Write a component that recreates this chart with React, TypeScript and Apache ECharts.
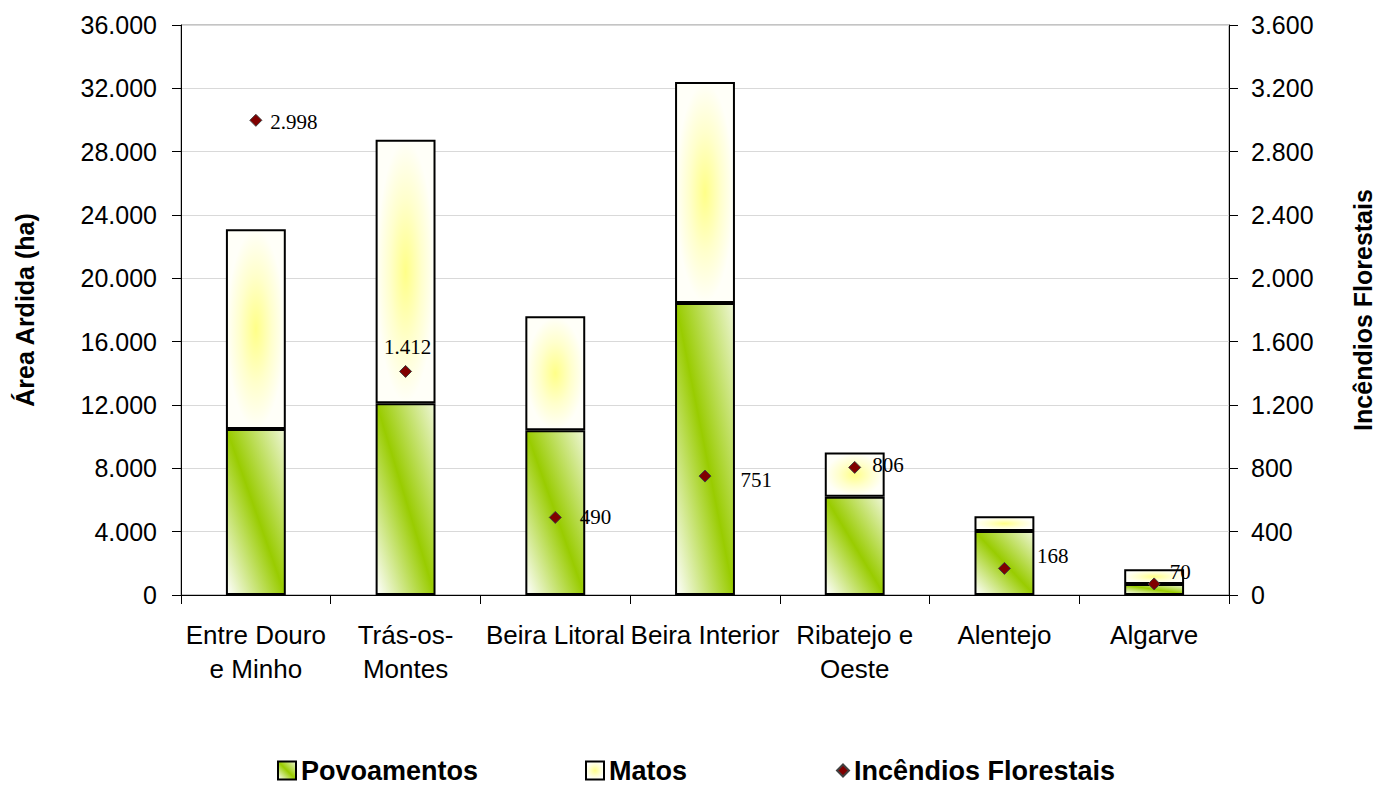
import React, { useEffect, useRef } from "react";
import * as echarts from "echarts";

const categories = [
  "Entre Douro\ne Minho",
  "Trás-os-\nMontes",
  "Beira Litoral",
  "Beira Interior",
  "Ribatejo e\nOeste",
  "Alentejo",
  "Algarve",
];
const povoamentos = [10480, 12110, 10400, 18450, 6200, 4050, 700];
const matos = [12620, 16640, 7200, 13950, 2800, 920, 920];
const incendios = [2998, 1412, 490, 751, 806, 168, 70];

// label placement of the point labels (style only)
const labelPlacement: { position: string; offset: [number, number] }[] = [
  { position: "right", offset: [3, 2] },
  { position: "top", offset: [2, -2] },
  { position: "right", offset: [13, 0] },
  { position: "right", offset: [24, 4] },
  { position: "right", offset: [6, -2] },
  { position: "right", offset: [21, -12] },
  { position: "right", offset: [4, -12] },
];

const SANS = "'Liberation Sans', Arial, sans-serif";
const SERIF = "'Liberation Serif', 'Times New Roman', serif";

function fmt(v: number): string {
  return String(Math.round(v)).replace(/\B(?=(\d{3})+(?!\d))/g, ".");
}

export default function App() {
  const ref = useRef<HTMLDivElement>(null);

  useEffect(() => {
    document.body.style.margin = "0";
    if (!ref.current) return;
    const chart = echarts.init(ref.current, null, { renderer: "svg" });

    const greenFill = new echarts.graphic.LinearGradient(0, 1, 1, 0, [
      { offset: 0, color: "#ffffff" },
      { offset: 0.5, color: "#99cc00" },
      { offset: 1, color: "#eef6d6" },
    ]);
    const yellowFill = new echarts.graphic.RadialGradient(0.5, 0.5, 0.5, [
      { offset: 0, color: "#ffff88" },
      { offset: 0.55, color: "#ffffcc" },
      { offset: 1, color: "#fffff8" },
    ]);

    const legendText = {
      fontSize: 27,
      lineHeight: 22,
      fontWeight: "bold",
      color: "#000",
      fontFamily: SANS,
    };

    const option: any = {
      animation: false,
      backgroundColor: "#ffffff",
      textStyle: { fontFamily: SANS },
      grid: {
        left: 181,
        right: 151,
        top: 25,
        bottom: 190,
        show: true,
        borderColor: "#888888",
        borderWidth: 1,
        backgroundColor: "transparent",
      },
      legend: [
        {
          data: [{ name: "Povoamentos", icon: "rect" }],
          left: 277,
          top: 757,
          padding: 0,
          itemWidth: 18,
          itemHeight: 18,
          textStyle: legendText,
          selectedMode: false,
        },
        {
          data: [{ name: "Matos", icon: "rect" }],
          left: 585,
          top: 757,
          padding: 0,
          itemWidth: 18,
          itemHeight: 18,
          textStyle: legendText,
          selectedMode: false,
        },
        {
          data: [{ name: "Incêndios Florestais", icon: "diamond" }],
          left: 836,
          top: 757,
          padding: 0,
          itemWidth: 12,
          itemHeight: 12,
          textStyle: legendText,
          selectedMode: false,
        },
      ],
      xAxis: {
        type: "category",
        data: categories,
        axisLine: { show: true, lineStyle: { color: "#000", width: 1 } },
        axisTick: { show: true, length: 9, lineStyle: { color: "#000" } },
        axisLabel: {
          interval: 0,
          color: "#000",
          fontSize: 26,
          lineHeight: 34,
          margin: 23,
          fontFamily: SANS,
        },
      },
      yAxis: [
        {
          type: "value",
          min: 0,
          max: 36000,
          interval: 4000,
          name: "Área Ardida (ha)",
          nameLocation: "middle",
          nameRotate: 90,
          nameGap: 144,
          nameTextStyle: { fontSize: 25, fontWeight: "bold", color: "#000", fontFamily: SANS },
          axisLine: { show: true, lineStyle: { color: "#000", width: 1 } },
          axisTick: { show: true, length: 9, lineStyle: { color: "#000" } },
          axisLabel: {
            formatter: (v: number) => fmt(v),
            color: "#000",
            fontSize: 25,
            margin: 24,
            fontFamily: SANS,
          },
          splitLine: { show: true, lineStyle: { color: "#d9d9d9", width: 1 } },
        },
        {
          type: "value",
          min: 0,
          max: 3600,
          interval: 400,
          position: "right",
          name: "Incêndios Florestais",
          nameLocation: "middle",
          nameRotate: 90,
          nameGap: 121,
          nameTextStyle: { fontSize: 25, fontWeight: "bold", color: "#000", fontFamily: SANS },
          axisLine: { show: true, lineStyle: { color: "#000", width: 1 } },
          axisTick: { show: true, length: 9, lineStyle: { color: "#000" } },
          axisLabel: {
            formatter: (v: number) => fmt(v),
            color: "#000",
            fontSize: 25,
            margin: 22,
            fontFamily: SANS,
          },
          splitLine: { show: false },
        },
      ],
      series: [
        {
          name: "Povoamentos",
          type: "bar",
          stack: "area",
          yAxisIndex: 0,
          barWidth: "40%",
          data: povoamentos,
          itemStyle: { color: greenFill, borderColor: "#000", borderWidth: 2 },
        },
        {
          name: "Matos",
          type: "bar",
          stack: "area",
          yAxisIndex: 0,
          barWidth: "40%",
          data: matos,
          itemStyle: { color: yellowFill, borderColor: "#000", borderWidth: 2 },
        },
        {
          name: "Incêndios Florestais",
          type: "scatter",
          yAxisIndex: 1,
          symbol: "diamond",
          symbolSize: 12,
          z: 5,
          itemStyle: { color: "#800000", borderColor: "#404040", borderWidth: 1, opacity: 1 },
          data: incendios.map((v, i) => ({
            value: v,
            label: {
              show: true,
              position: labelPlacement[i].position,
              offset: labelPlacement[i].offset,
            },
          })),
          label: {
            show: true,
            formatter: (p: any) => fmt(p.value),
            color: "#000",
            opacity: 1,
            fontSize: 21,
            fontFamily: SERIF,
          },
        },
      ],
    };

    chart.setOption(option);
    return () => chart.dispose();
  }, []);

  return <div ref={ref} style={{ width: 1383, height: 785 }} />;
}
